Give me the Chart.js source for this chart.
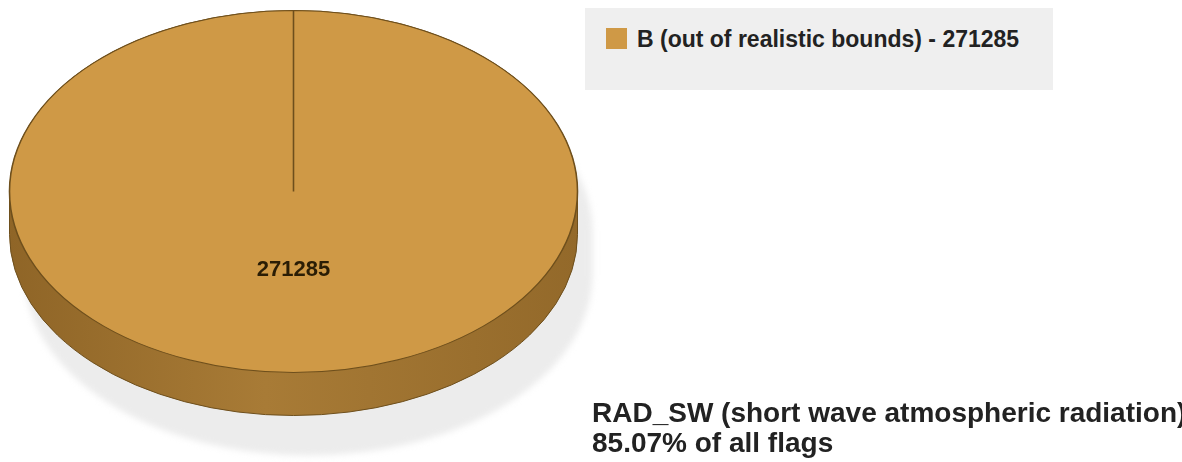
<!DOCTYPE html>
<html>
<head>
<meta charset="utf-8">
<title>RAD_SW flags</title>
<script src="https://cdn.jsdelivr.net/npm/chart.js@4.4.1/dist/chart.umd.min.js"></script>
<style>
  html, body { margin: 0; padding: 0; background: #fff; }
  #wrap {
    position: relative; width: 1182px; height: 462px; overflow: hidden;
    font-family: 'Liberation Sans', Arial, sans-serif; font-weight: bold; color: #222;
  }
  #flagChart { position: absolute; left: 0; top: 0; }
  #legendBox {
    position: absolute; left: 585px; top: 8px; width: 468px; height: 82px;
    background: #efefef;
  }
  .legend-item { position: absolute; left: 21px; top: 20px; white-space: nowrap; font-size: 23px; line-height: 23px; }
  .legend-swatch { position: absolute; left: 0; top: 0; width: 21px; height: 21px; }
  .legend-text { position: absolute; left: 31px; top: -0.5px; }
  #caption { position: absolute; left: 592px; top: 398px; font-size: 28px; line-height: 30px; white-space: nowrap; }
</style>
</head>
<body>
<div id="wrap">
  <canvas id="flagChart" width="1182" height="462"></canvas>
  <div id="legendBox"></div>
  <div id="caption"></div>
</div>
<script>
// flag categories and their counts
var flagLabels = ['B (out of realistic bounds)'];
var flagCounts = [271285];
var flagColors = ['#cf9946'];

// variable summary
var variableName = 'RAD_SW (short wave atmospheric radiation)';
var shareOfAllFlags = '85.07%';

// look of the fake 3d disc
var stretch = 284 / 181;   // horizontal squash of the top face
var depth = 43;            // thickness of the disc

function silhouette(ctx, cx, cy, rx, ry, d) {
  ctx.beginPath();
  ctx.ellipse(cx, cy, rx, ry, 0, Math.PI, 2 * Math.PI);
  ctx.lineTo(cx + rx, cy + d);
  ctx.ellipse(cx, cy + d, rx, ry, 0, 0, Math.PI);
  ctx.closePath();
}

var pie3d = {
  id: 'pie3d',
  beforeDatasetsDraw: function (chart) {
    var arc = chart.getDatasetMeta(0).data[0];
    var p = arc.getProps(['x', 'y', 'outerRadius'], true);
    var ctx = chart.ctx;
    var rx = p.outerRadius * stretch, ry = p.outerRadius;

    // soft shadow under the disc
    ctx.save();
    ctx.filter = 'blur(3px)';
    ctx.fillStyle = '#ececec';
    silhouette(ctx, p.x + 15, p.y + 40, rx, ry, depth);
    ctx.fill();
    ctx.restore();

    // side wall
    ctx.save();
    var g = ctx.createLinearGradient(p.x - rx, 0, p.x + rx, 0);
    g.addColorStop(0, '#8f6527');
    g.addColorStop(0.45, '#a87b36');
    g.addColorStop(1, '#93692a');
    ctx.fillStyle = g;
    silhouette(ctx, p.x, p.y, rx, ry, depth);
    ctx.fill();
    ctx.strokeStyle = '#6e4f1c';
    ctx.lineWidth = 1;
    ctx.stroke();
    ctx.restore();

    // squash the pie into an ellipse for the top face
    ctx.save();
    ctx.translate(p.x, p.y);
    ctx.scale(stretch, 1);
    ctx.translate(-p.x, -p.y);
  },
  afterDatasetsDraw: function (chart) {
    var ctx = chart.ctx;
    ctx.restore();

    var meta = chart.getDatasetMeta(0);
    meta.data.forEach(function (arc, i) {
      var c = arc.getProps(['x', 'y'], true);
      var tp = arc.tooltipPosition(true);
      ctx.save();
      ctx.font = 'bold 22px "Liberation Sans", Arial, sans-serif';
      ctx.fillStyle = '#2a1d05';
      ctx.textAlign = 'center';
      ctx.textBaseline = 'middle';
      ctx.fillText(String(flagCounts[i]), c.x + (tp.x - c.x) * stretch, tp.y - 12);
      ctx.restore();
    });
  }
};

var ctx = document.getElementById('flagChart').getContext('2d');
var chart = new Chart(ctx, {
  type: 'pie',
  data: {
    labels: flagLabels,
    datasets: [
      {
        data: flagCounts,
        backgroundColor: flagColors,
        borderColor: '#6e4f1c',
        borderWidth: 1,
        clip: false,
      },
    ],
  },
  options: {
    responsive: false,
    devicePixelRatio: 1,
    animation: false,
    events: [],
    layout: {
      padding: { left: 112, top: 10, right: 707, bottom: 89 },
    },
    plugins: {
      legend: { display: false },
      tooltip: { enabled: false },
    },
  },
  plugins: [pie3d],
});

// legend box
var legendBox = document.getElementById('legendBox');
flagLabels.forEach(function (label, i) {
  var item = document.createElement('div');
  item.className = 'legend-item';
  item.style.top = (20 + i * 30) + 'px';
  var sw = document.createElement('div');
  sw.className = 'legend-swatch';
  sw.style.background = flagColors[i];
  var tx = document.createElement('div');
  tx.className = 'legend-text';
  tx.textContent = label + ' - ' + flagCounts[i];
  item.appendChild(sw);
  item.appendChild(tx);
  legendBox.appendChild(item);
});

// caption under the legend
var caption = document.getElementById('caption');
caption.innerHTML = '';
[variableName, shareOfAllFlags + ' of all flags'].forEach(function (line) {
  var d = document.createElement('div');
  d.textContent = line;
  caption.appendChild(d);
});
</script>
</body>
</html>
